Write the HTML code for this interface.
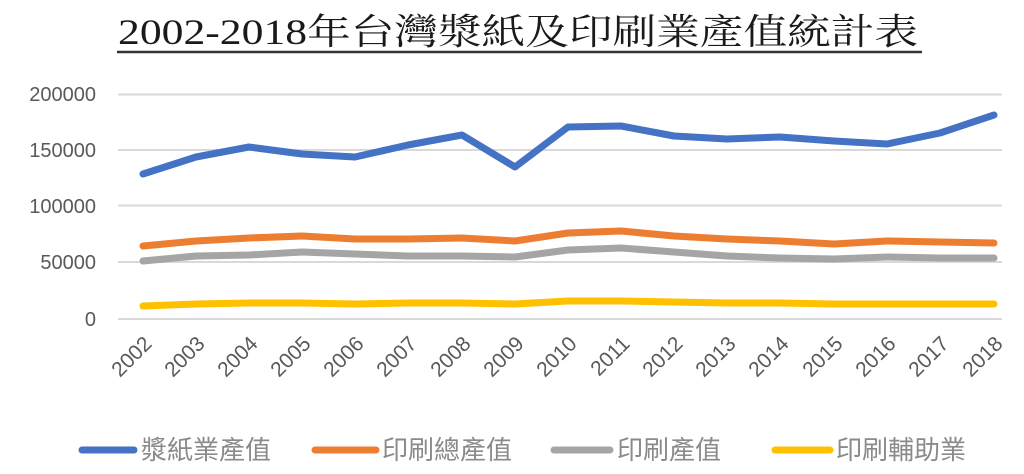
<!DOCTYPE html>
<html><head><meta charset="utf-8"><style>
body{margin:0;background:#fff;width:1024px;height:474px;overflow:hidden}
svg{display:block}
</style></head><body>
<svg width="1024" height="474" xmlns="http://www.w3.org/2000/svg">
<text x="518" y="44" text-anchor="middle" font-family="'Liberation Serif','Noto Serif CJK SC',serif" font-size="36" fill="#1a1a1a" textLength="800" lengthAdjust="spacingAndGlyphs">2002-2018年台灣漿紙及印刷業產值統計表</text>
<line x1="117" y1="52" x2="922" y2="52" stroke="#333" stroke-width="2.5"/>
<g stroke="#d9d9d9" stroke-width="2">
<line x1="118" y1="94.5" x2="1002" y2="94.5"/>
<line x1="118" y1="150" x2="1002" y2="150"/>
<line x1="118" y1="205.5" x2="1002" y2="205.5"/>
<line x1="118" y1="262" x2="1002" y2="262"/>
<line x1="118" y1="319" x2="1002" y2="319"/>
</g>
<g font-family="'Liberation Sans',sans-serif" font-size="20" fill="#595959" text-anchor="end">
<text x="96" y="101">200000</text>
<text x="96" y="157">150000</text>
<text x="96" y="213">100000</text>
<text x="96" y="269">50000</text>
<text x="96" y="326">0</text>
</g>
<g fill="none" stroke-width="7" stroke-linejoin="round" stroke-linecap="round">
<polyline stroke="#4472c4" points="143,174 196,157 249,147 302,154 355,157 408,145 462,135 515,167 568,127 621,126 674,136 727,139 780,137 834,141 887,144 940,133 994,115"/>
<polyline stroke="#ed7d31" points="143,246 196,241 249,238 302,236 355,239 408,239 462,238 515,241 568,233 621,231 674,236 727,239 780,241 834,244 887,241 940,242 994,243"/>
<polyline stroke="#a5a5a5" points="143,261 196,256 249,255 302,252 355,254 408,256 462,256 515,257 568,250 621,248 674,252 727,256 780,258 834,259 887,257 940,258 994,258"/>
<polyline stroke="#ffc000" points="143,306 196,304 249,303 302,303 355,304 408,303 462,303 515,304 568,301 621,301 674,302 727,303 780,303 834,304 887,304 940,304 994,304"/>
</g>
<g font-family="'Liberation Sans',sans-serif" font-size="21" fill="#595959" text-anchor="end">
<text transform="translate(153,345) rotate(-45)">2002</text>
<text transform="translate(206,345) rotate(-45)">2003</text>
<text transform="translate(259,345) rotate(-45)">2004</text>
<text transform="translate(312,345) rotate(-45)">2005</text>
<text transform="translate(365,345) rotate(-45)">2006</text>
<text transform="translate(418,345) rotate(-45)">2007</text>
<text transform="translate(472,345) rotate(-45)">2008</text>
<text transform="translate(525,345) rotate(-45)">2009</text>
<text transform="translate(578,345) rotate(-45)">2010</text>
<text transform="translate(631,345) rotate(-45)">2011</text>
<text transform="translate(684,345) rotate(-45)">2012</text>
<text transform="translate(737,345) rotate(-45)">2013</text>
<text transform="translate(790,345) rotate(-45)">2014</text>
<text transform="translate(844,345) rotate(-45)">2015</text>
<text transform="translate(897,345) rotate(-45)">2016</text>
<text transform="translate(950,345) rotate(-45)">2017</text>
<text transform="translate(1004,345) rotate(-45)">2018</text>
</g>
<g stroke-width="7" stroke-linecap="round">
<line x1="82" y1="450" x2="134" y2="450" stroke="#4472c4"/>
<line x1="315" y1="450" x2="376" y2="450" stroke="#ed7d31"/>
<line x1="554" y1="450" x2="610" y2="450" stroke="#a5a5a5"/>
<line x1="775" y1="450" x2="830" y2="450" stroke="#ffc000"/>
</g>
<g font-family="'Liberation Sans','Noto Sans CJK TC',sans-serif" font-size="26" fill="#8a8a8a">
<text x="141" y="459">漿紙業產值</text>
<text x="382" y="459">印刷總產值</text>
<text x="617" y="459">印刷產值</text>
<text x="836" y="459">印刷輔助業</text>
</g>
</svg>
</body></html>
